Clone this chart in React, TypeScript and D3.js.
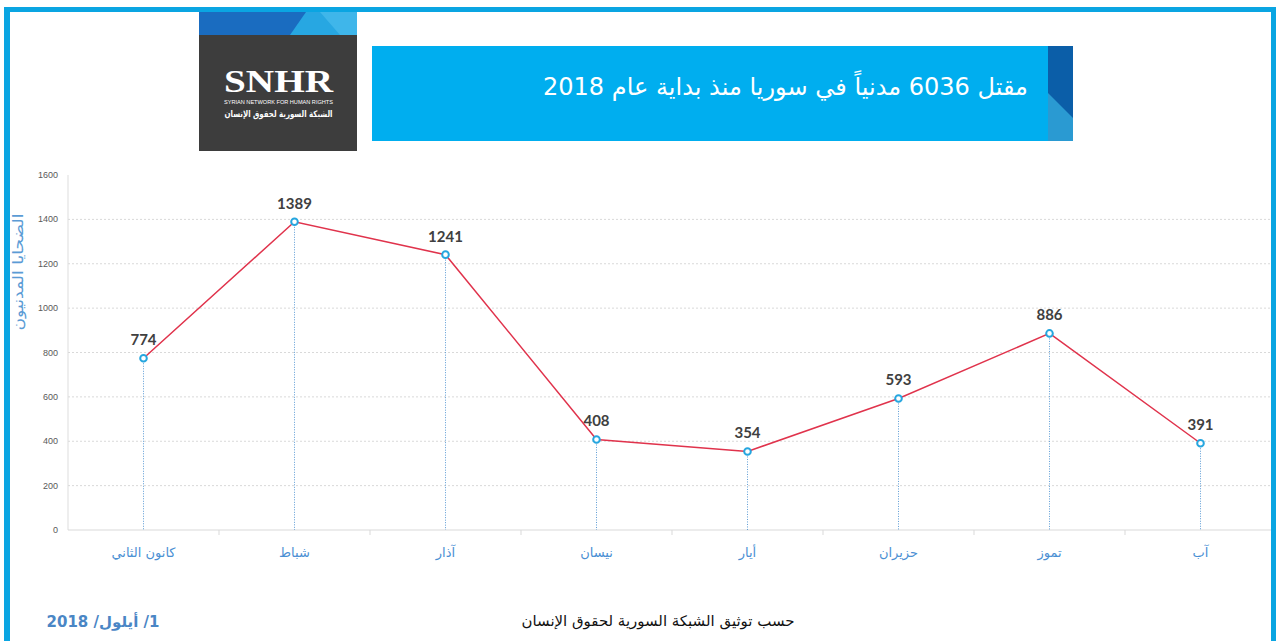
import React from "react";
import * as d3 from "d3";

const months = ["كانون الثاني", "شباط", "آذار", "نيسان", "أيار", "حزيران", "تموز", "آب"];
const victims = [774, 1389, 1241, 408, 354, 593, 886, 391];
const yTicks = [0, 200, 400, 600, 800, 1000, 1200, 1400, 1600];
const titleText = "مقتل 6036 مدنياً في سوريا منذ بداية عام 2018";
const yAxisTitle = "الضحايا المدنيون";
const sourceText = "حسب توثيق الشبكة السورية لحقوق الإنسان";
const dateText = "1/ أيلول/ 2018";
const logoMain = "SNHR";
const logoEn = "SYRIAN NETWORK FOR HUMAN RIGHTS";
const logoAr = "الشبكة السورية لحقوق الإنسان";

const W = 1276;
const H = 641;
const AR = "'DejaVu Sans', sans-serif";

export default function App() {
  const x = d3.scaleBand<string>().domain(months).range([68, 1276]).padding(0);
  const y = d3.scaleLinear().domain([0, 1600]).range([530, 175]);
  const cx = (m: string) => (x(m) as number) + x.bandwidth() / 2;
  const line = d3
    .line<number>()
    .x((_, i) => cx(months[i]))
    .y((d) => y(d));

  return (
    <svg
      width={W}
      height={H}
      style={{ position: "absolute", left: 0, top: 0, background: "#fff" }}
    >
      {/* frame */}
      <rect x={4} y={7} width={6} height={H} fill="#0aa5e2" />
      <rect x={4} y={7} width={1272} height={5} fill="#0aa5e2" />
      <rect x={1271} y={7} width={5} height={H} fill="#0aa5e2" />

      {/* logo */}
      <rect x={199} y={12} width={158} height={139} fill="#3d3d3d" />
      <rect x={199} y={12} width={158} height={23} fill="#27a7e2" />
      <polygon points="199,12 306,12 290,35 199,35" fill="#1a6cc0" />
      <polygon points="320,12 357,12 357,35 340,35" fill="#3fb6ea" />
      <text
        x={224}
        y={92}
        fill="#fff"
        fontFamily="'Liberation Serif', serif"
        fontWeight="bold"
        fontSize={32}
        textLength={109}
        lengthAdjust="spacingAndGlyphs"
      >
        {logoMain}
      </text>
      <text
        x={224}
        y={104}
        fill="#fff"
        fontFamily="'Liberation Sans Narrow', 'Liberation Sans', sans-serif"
        fontSize={5}
        textLength={109}
        lengthAdjust="spacingAndGlyphs"
      >
        {logoEn}
      </text>
      <text
        x={278.5}
        y={117}
        fill="#fff"
        fontFamily={AR}
        fontSize={9}
        fontWeight="bold"
        textAnchor="middle"
        direction="rtl"
        textLength={108}
        lengthAdjust="spacingAndGlyphs"
      >
        {logoAr}
      </text>

      {/* title banner */}
      <rect x={372} y={46} width={676} height={95} fill="#00aeef" />
      <rect x={1048} y={46} width={25} height={95} fill="#0b5ea8" />
      <polygon points="1048,93 1073,118 1073,141 1048,141" fill="#2a9ad2" />
      <text
        x={785.5}
        y={95}
        fill="#fff"
        fontFamily={AR}
        fontSize={24}
        textAnchor="middle"
        direction="rtl"
        textLength={485}
        lengthAdjust="spacingAndGlyphs"
      >
        {titleText}
      </text>

      {/* gridlines */}
      {yTicks.map((t) =>
        t === 0 || t === 1600 ? null : (
          <line
            key={t}
            x1={68}
            x2={1271}
            y1={y(t)}
            y2={y(t)}
            stroke="#d9d9d9"
            strokeWidth={1}
            strokeDasharray="2,2"
          />
        )
      )}
      <line x1={68} x2={68} y1={175} y2={530} stroke="#dddddd" />
      <line x1={68} x2={1271} y1={530} y2={530} stroke="#d9d9d9" />
      {months.map((m, i) =>
        i === 0 ? null : (
          <line
            key={m}
            x1={x(m) as number}
            x2={x(m) as number}
            y1={530}
            y2={535}
            stroke="#d9d9d9"
          />
        )
      )}

      {/* y tick labels */}
      {yTicks.map((t) => (
        <text
          key={t}
          x={58}
          y={y(t) + 3}
          fontSize={9}
          fill="#595959"
          textAnchor="end"
          fontFamily="'Liberation Sans', sans-serif"
        >
          {t}
        </text>
      ))}

      {/* y axis title */}
      <text
        transform={`translate(23,272) rotate(-90)`}
        fontSize={14.5}
        fill="#5b9bd5"
        textAnchor="middle"
        fontFamily={AR}
        direction="rtl"
        textLength={117}
        lengthAdjust="spacingAndGlyphs"
      >
        {yAxisTitle}
      </text>

      {/* drop lines */}
      {victims.map((v, i) => (
        <line
          key={i}
          x1={cx(months[i])}
          x2={cx(months[i])}
          y1={y(v)}
          y2={530}
          stroke="#5b9bd5"
          strokeWidth={1}
          strokeDasharray="1,1.5"
        />
      ))}

      {/* line */}
      <path d={line(victims) as string} fill="none" stroke="#e0334c" strokeWidth={1.5} />

      {/* markers */}
      {victims.map((v, i) => (
        <circle
          key={i}
          cx={cx(months[i])}
          cy={y(v)}
          r={3.3}
          fill="#fff"
          stroke="#26a6df"
          strokeWidth={2}
        />
      ))}

      {/* data labels */}
      {victims.map((v, i) => (
        <text
          key={i}
          x={cx(months[i])}
          y={y(v) - 13}
          textAnchor="middle"
          fontFamily="Lato, 'Open Sans', sans-serif"
          fontWeight="bold"
          fontSize={15}
          fill="#404040"
        >
          {v}
        </text>
      ))}

      {/* x labels */}
      {months.map((m) => (
        <text
          key={m}
          x={cx(m)}
          y={557}
          textAnchor="middle"
          fontFamily={AR}
          fontSize={13}
          fill="#4a8fd3"
          direction="rtl"
        >
          {m}
        </text>
      ))}

      {/* footer */}
      <text
        x={658}
        y={626}
        textAnchor="middle"
        fontFamily={AR}
        fontSize={14.5}
        fill="#111"
        direction="rtl"
        textLength={273}
        lengthAdjust="spacingAndGlyphs"
      >
        {sourceText}
      </text>
      <text
        x={103}
        y={627}
        textAnchor="middle"
        fontFamily={AR}
        fontSize={15}
        fontWeight="bold"
        fill="#4a86c5"
        direction="rtl"
      >
        {dateText}
      </text>
    </svg>
  );
}
